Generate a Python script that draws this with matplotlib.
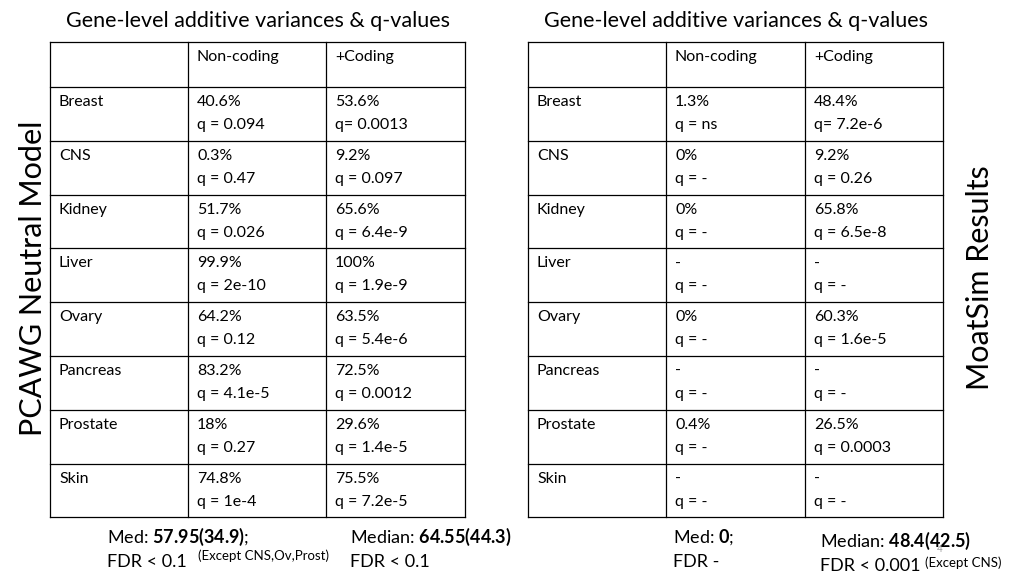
import matplotlib

matplotlib.use("Agg")
import matplotlib.pyplot as plt

plt.rcParams["font.family"] = "Lato"
plt.rcParams["mathtext.fontset"] = "custom"
plt.rcParams["mathtext.rm"] = "Lato"
plt.rcParams["mathtext.bf"] = "Lato:bold"

tissues = ["Breast", "CNS", "Kidney", "Liver", "Ovary", "Pancreas", "Prostate", "Skin"]
columns = ["Non-coding", "+Coding"]

pcawg_nc = ["40.6%", "0.3%", "51.7%", "99.9%", "64.2%", "83.2%", "18%", "74.8%"]
pcawg_nc_q = ["q = 0.094", "q = 0.47", "q = 0.026", "q = 2e-10", "q = 0.12", "q = 4.1e-5", "q = 0.27", "q = 1e-4"]
pcawg_cod = ["53.6%", "9.2%", "65.6%", "100%", "63.5%", "72.5%", "29.6%", "75.5%"]
pcawg_cod_q = ["q= 0.0013", "q = 0.097", "q = 6.4e-9", "q = 1.9e-9", "q = 5.4e-6", "q = 0.0012", "q = 1.4e-5", "q = 7.2e-5"]

moat_nc = ["1.3%", "0%", "0%", "-", "0%", "-", "0.4%", "-"]
moat_nc_q = ["q = ns", "q = -", "q = -", "q = -", "q = -", "q = -", "q = -", "q = -"]
moat_cod = ["48.4%", "9.2%", "65.8%", "-", "60.3%", "-", "26.5%", "-"]
moat_cod_q = ["q= 7.2e-6", "q = 0.26", "q = 6.5e-8", "q = -", "q = 1.6e-5", "q = -", "q = 0.0003", "q = -"]

fig = plt.figure(figsize=(10.24, 5.76), dpi=100)
ax = fig.add_axes([0, 0, 1, 1])
ax.set_xlim(0, 1024)
ax.set_ylim(576, 0)
ax.axis("off")

row_tops = [42, 87] + [87 + 53.8 * (i + 1) for i in range(len(tissues))]
cfs = 11.5


def draw_table(x0, col_w, nc, nc_q, cod, cod_q, title):
    xs = [x0, x0 + col_w[0], x0 + col_w[0] + col_w[1], x0 + sum(col_w)]
    for y in row_tops:
        ax.plot([xs[0], xs[-1]], [y, y], color="black", lw=0.9)
    for x in xs:
        ax.plot([x, x], [row_tops[0], row_tops[-1]], color="black", lw=0.9)
    ax.text((xs[0] + xs[-1]) / 2, 21, title, ha="center", va="center", fontsize=15.5)
    for j, c in enumerate(columns):
        ax.text(xs[j + 1] + 9, 57, c, ha="left", va="center", fontsize=cfs)
    for i, t in enumerate(tissues):
        y = row_tops[i + 1]
        ax.text(xs[0] + 9, y + 15, t, ha="left", va="center", fontsize=cfs)
        ax.text(xs[1] + 9, y + 15, nc[i], ha="left", va="center", fontsize=cfs)
        ax.text(xs[1] + 9, y + 38, nc_q[i], ha="left", va="center", fontsize=cfs)
        ax.text(xs[2] + 9, y + 15, cod[i], ha="left", va="center", fontsize=cfs)
        ax.text(xs[2] + 9, y + 38, cod_q[i], ha="left", va="center", fontsize=cfs)


draw_table(50, [138, 138, 139], pcawg_nc, pcawg_nc_q, pcawg_cod, pcawg_cod_q,
           "Gene-level additive variances & q-values")
draw_table(528, [138, 139, 138], moat_nc, moat_nc_q, moat_cod, moat_cod_q,
           "Gene-level additive variances & q-values")

ax.text(33, 278, "PCAWG Neutral Model", rotation=90, ha="center", va="center", fontsize=22)
ax.text(980, 278, "MoatSim Results", rotation=90, ha="center", va="center", fontsize=22)

fs = 13
ax.text(107, 537, "Med: $\\bf{57.95(34.9)}$;", ha="left", va="center", fontsize=fs)
ax.text(107, 562, "FDR < 0.1", ha="left", va="center", fontsize=fs)
ax.text(198, 556, "(Except CNS,Ov,Prost)", ha="left", va="center", fontsize=9.5)
ax.text(350, 537, "Median: $\\bf{64.55(44.3)}$", ha="left", va="center", fontsize=fs)
ax.text(350, 562, "FDR < 0.1", ha="left", va="center", fontsize=fs)
ax.text(673, 537, "Med: $\\bf{0}$;", ha="left", va="center", fontsize=fs)
ax.text(673, 562, "FDR -", ha="left", va="center", fontsize=fs)
ax.text(820, 541, "Median: $\\bf{48.4(42.5)}$", ha="left", va="center", fontsize=fs)
ax.text(820, 566, "FDR < 0.001", ha="left", va="center", fontsize=fs)
ax.text(925, 563, "(Except CNS)", ha="left", va="center", fontsize=9.5)
ax.text(940, 549, "4", ha="center", va="center", fontsize=7, color="#999999")

fig.savefig("out.png", dpi=100)
